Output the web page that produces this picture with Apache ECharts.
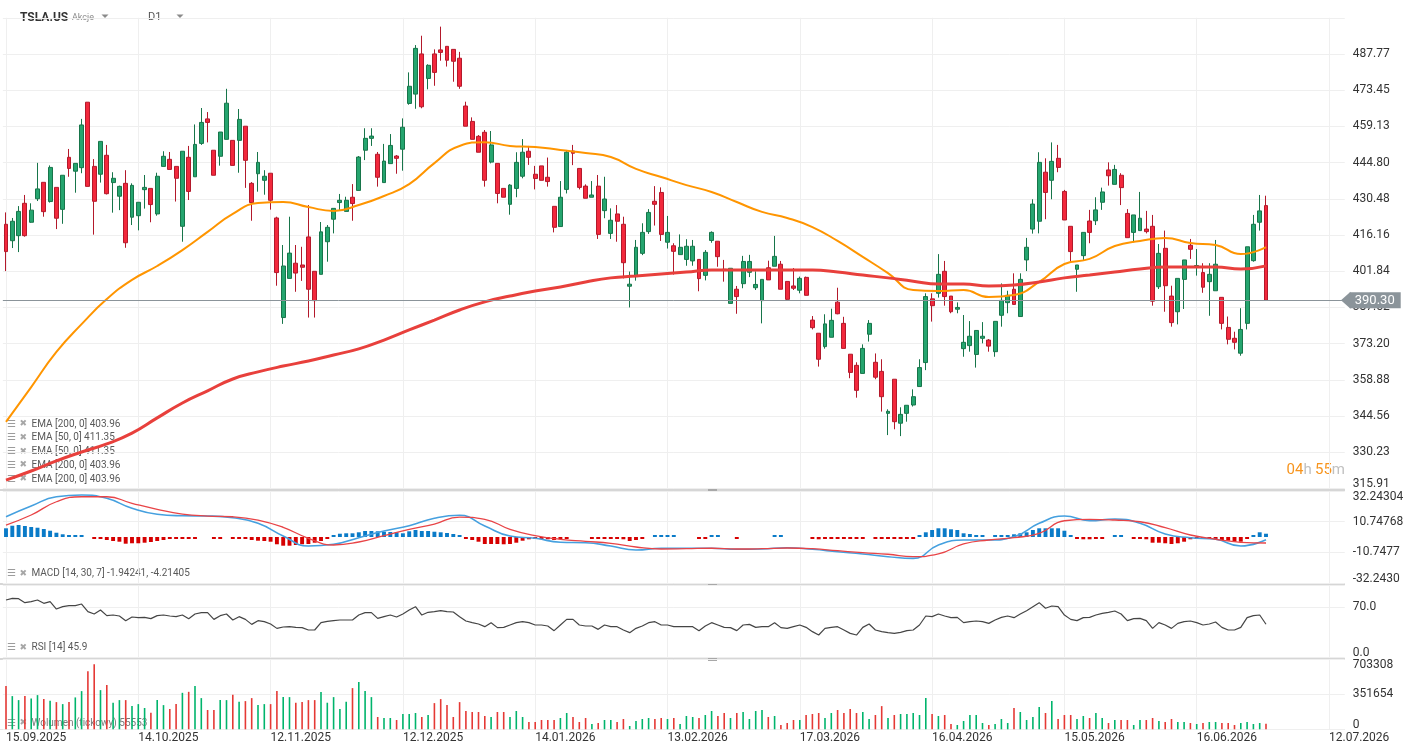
<!DOCTYPE html>
<html>
<head>
<meta charset="utf-8">
<script src="https://cdn.jsdelivr.net/npm/echarts@6.0.0/dist/echarts.min.js"></script>
<style>
  html, body { margin: 0; padding: 0; background: #fff; }
  #main { width: 1413px; height: 755px; }
</style>
</head>
<body>
<div id="main"></div>
<script>
// tick labels
var tickDates = ['15.09.2025', '14.10.2025', '12.11.2025', '12.12.2025', '14.01.2026', '13.02.2026',
  '17.03.2026', '16.04.2026', '15.05.2026', '16.06.2026', '12.07.2026'];
var priceTicks = ['315.91', '330.23', '344.56', '358.88', '373.20', '387.52', '401.84', '416.16',
  '430.48', '444.80', '459.13', '473.45', '487.77'];
var macdTicks = ['-32.2430', '-10.7477', '10.74768', '32.24304'];

// daily candles (one per trading day)
var open = [
  420.4, 413.9, 415.9, 428.7, 421.2, 430.5, 437.0, 429.4, 435.0, 426.3,
  446.9, 441.4, 442.8, 468.7, 443.3, 440.2, 447.7, 436.9, 431.5, 436.6,
  423.2, 423.8, 434.1, 434.6, 424.5, 443.3, 446.1, 443.3, 419.6, 446.9,
  439.2, 452.4, 462.1, 449.7, 447.3, 454.0, 453.6, 453.6, 459.2, 436.6,
  440.4, 437.8, 440.6, 422.9, 383.5, 399.0, 405.0, 404.3, 415.4, 401.8,
  400.6, 413.5, 422.4, 429.0, 425.5, 431.1, 433.8, 449.7, 454.4, 448.1,
  436.9, 444.4, 447.4, 450.1, 468.2, 471.9, 487.8, 478.1, 487.8, 489.4,
  490.8, 489.6, 486.1, 467.2, 461.1, 455.2, 456.8, 445.0, 444.5, 434.6,
  428.3, 434.6, 439.4, 449.3, 440.2, 443.5, 439.0, 427.5, 419.5, 434.2,
  449.4, 442.5, 435.5, 431.1, 435.5, 425.8, 416.8, 424.5, 420.4, 395.9,
  399.7, 408.9, 417.5, 429.5, 433.0, 413.3, 411.9, 408.4, 406.5, 405.9,
  406.5, 400.2, 414.0, 413.7, 402.6, 389.1, 394.7, 396.9, 401.4, 395.3,
  390.2, 403.2, 403.8, 404.6, 397.8, 396.0, 394.3, 399.4, 382.5, 377.3,
  372.0, 375.7, 389.6, 381.2, 369.0, 364.6, 361.4, 376.9, 365.8, 362.2,
  345.6, 359.1, 341.7, 345.6, 348.9, 356.2, 365.7, 390.9, 393.1, 401.8,
  392.0, 386.8, 371.2, 372.4, 368.9, 375.3, 374.6, 370.0, 384.4, 389.4,
  394.7, 383.9, 406.3, 418.5, 421.6, 441.0, 437.8, 446.5, 433.4, 419.6,
  402.6, 408.0, 421.7, 421.8, 429.1, 441.9, 436.2, 439.8, 424.7, 417.2,
  417.9, 418.5, 419.6, 395.7, 410.9, 392.0, 385.8, 398.6, 412.1, 403.6,
  401.3, 397.7, 394.1, 391.5, 379.6, 375.3, 369.4, 381.2, 406.0, 421.2,
  427.8
];
var close = [
  409.6, 421.6, 425.5, 415.9, 426.0, 434.4, 425.4, 442.9, 422.8, 439.8,
  442.5, 444.5, 459.7, 435.4, 429.5, 453.2, 432.5, 438.6, 435.4, 413.1,
  435.8, 429.1, 435.0, 428.2, 439.4, 447.3, 442.1, 438.6, 449.3, 433.4,
  452.0, 460.7, 460.7, 439.8, 456.9, 468.3, 443.7, 461.9, 445.7, 429.0,
  444.9, 439.4, 429.9, 401.3, 403.9, 409.0, 401.1, 403.4, 394.7, 390.2,
  417.4, 419.2, 426.7, 429.9, 429.9, 428.6, 447.0, 454.4, 455.3, 439.0,
  445.4, 451.6, 446.5, 458.8, 475.0, 490.0, 466.9, 483.3, 480.5, 488.4,
  485.3, 484.9, 475.0, 459.2, 454.0, 448.9, 437.8, 451.8, 432.6, 431.1,
  435.9, 444.9, 448.9, 446.9, 438.5, 437.8, 437.3, 419.2, 431.1, 448.9,
  448.5, 435.0, 430.7, 432.0, 416.4, 430.4, 422.0, 421.6, 405.2, 396.7,
  411.3, 417.2, 425.1, 428.3, 416.4, 417.2, 409.7, 411.3, 411.7, 411.7,
  398.9, 409.3, 417.2, 407.6, 402.1, 403.0, 391.8, 405.7, 405.7, 396.6,
  398.6, 398.4, 407.7, 394.7, 390.7, 395.1, 399.0, 392.3, 379.5, 367.0,
  381.0, 382.4, 385.0, 371.3, 361.8, 354.7, 371.3, 381.2, 359.9, 352.2,
  346.4, 342.3, 345.2, 348.8, 352.2, 363.7, 391.8, 388.2, 400.6, 391.8,
  385.8, 387.5, 373.7, 376.1, 378.4, 376.1, 372.2, 382.0, 390.3, 392.3,
  388.7, 398.6, 411.3, 428.4, 444.9, 433.0, 445.3, 442.9, 422.1, 409.6,
  404.3, 417.2, 417.2, 426.1, 433.2, 439.6, 442.1, 434.9, 415.1, 424.1,
  422.8, 417.5, 390.0, 408.9, 396.1, 381.5, 399.0, 406.3, 410.5, 404.1,
  395.5, 400.6, 404.6, 381.2, 374.9, 373.7, 378.8, 411.5, 420.4, 425.7,
  390.3
];
var high = [
  425.1, 422.9, 427.6, 432.0, 428.7, 444.7, 437.0, 443.7, 435.0, 439.8,
  450.2, 444.5, 462.1, 468.7, 446.2, 453.2, 451.8, 441.0, 435.7, 441.8,
  436.6, 429.1, 439.9, 434.6, 440.8, 449.3, 449.0, 443.3, 449.3, 451.4,
  459.9, 466.4, 464.8, 449.7, 456.9, 474.0, 453.6, 466.0, 459.2, 437.1,
  449.0, 441.8, 440.6, 423.4, 412.2, 423.4, 412.2, 411.5, 428.0, 401.8,
  421.3, 420.1, 426.7, 432.4, 431.3, 436.3, 447.4, 458.4, 458.4, 449.0,
  452.2, 456.1, 447.8, 462.3, 480.5, 491.3, 495.0, 483.7, 489.6, 498.6,
  490.8, 489.6, 488.6, 468.9, 462.7, 455.7, 457.7, 457.3, 444.5, 434.6,
  436.3, 448.9, 454.1, 451.4, 443.5, 443.5, 446.8, 427.5, 437.5, 449.8,
  451.8, 442.5, 436.2, 437.5, 439.9, 439.2, 426.7, 428.0, 423.4, 401.7,
  414.2, 420.8, 426.4, 435.5, 435.0, 423.7, 412.9, 416.4, 414.5, 414.2,
  406.5, 410.2, 417.6, 413.7, 406.3, 403.0, 396.0, 407.9, 408.3, 401.8,
  398.6, 406.0, 415.8, 405.9, 397.8, 403.1, 399.7, 399.7, 384.1, 377.3,
  384.8, 387.0, 395.3, 383.8, 369.0, 365.8, 372.9, 382.5, 369.3, 367.0,
  347.2, 359.1, 348.0, 348.8, 355.1, 367.0, 393.1, 393.1, 408.6, 405.9,
  392.0, 389.5, 384.5, 382.1, 378.4, 381.7, 375.0, 382.0, 397.0, 394.1,
  401.0, 401.0, 415.0, 430.3, 448.9, 446.5, 452.8, 451.8, 434.0, 419.6,
  404.3, 417.2, 426.1, 431.1, 434.9, 444.9, 443.9, 440.6, 426.4, 424.1,
  433.2, 425.7, 424.1, 412.6, 417.9, 396.1, 399.0, 406.3, 414.6, 410.6,
  405.0, 405.0, 414.2, 391.5, 383.9, 377.9, 387.2, 411.5, 424.1, 432.0,
  431.7
];
var low = [
  401.9, 411.0, 409.4, 415.5, 421.0, 429.6, 423.4, 429.0, 418.5, 420.6,
  439.2, 432.9, 440.6, 435.4, 416.3, 436.9, 432.2, 425.0, 426.0, 411.1,
  420.1, 418.0, 426.6, 421.2, 423.8, 443.3, 442.1, 429.4, 413.5, 430.0,
  439.2, 451.8, 452.8, 439.8, 443.6, 454.0, 443.7, 440.8, 434.8, 421.8,
  433.3, 432.1, 426.2, 396.1, 381.0, 399.0, 393.7, 398.0, 383.5, 383.5,
  400.6, 405.6, 416.8, 426.0, 425.5, 421.8, 433.8, 445.8, 451.4, 435.3,
  436.9, 444.4, 440.4, 441.6, 467.7, 466.1, 466.3, 473.8, 475.2, 485.1,
  482.8, 476.8, 474.0, 459.2, 454.0, 448.9, 435.3, 444.5, 428.7, 431.1,
  424.2, 431.1, 438.6, 443.9, 434.2, 437.8, 435.3, 417.2, 419.5, 432.6,
  443.8, 434.2, 430.7, 431.1, 414.6, 422.8, 414.6, 413.5, 399.0, 387.5,
  398.1, 408.2, 416.6, 419.9, 413.8, 410.8, 400.5, 408.4, 404.0, 404.0,
  393.9, 398.2, 413.1, 403.6, 397.7, 389.1, 385.0, 395.1, 399.5, 394.4,
  381.2, 398.4, 403.8, 394.7, 390.2, 394.4, 393.1, 392.3, 378.8, 364.1,
  371.2, 375.7, 384.8, 371.3, 359.5, 351.8, 361.4, 374.0, 359.1, 346.3,
  337.0, 339.3, 336.6, 342.3, 348.3, 356.2, 362.7, 381.9, 391.4, 388.2,
  385.2, 385.2, 368.0, 370.0, 363.7, 373.3, 370.0, 368.0, 379.9, 385.2,
  388.7, 383.9, 401.9, 416.7, 416.8, 422.4, 430.3, 441.0, 422.1, 405.6,
  393.7, 406.3, 412.9, 420.1, 426.1, 435.7, 436.2, 428.0, 415.1, 413.3,
  417.9, 416.8, 388.2, 394.8, 385.8, 379.9, 380.8, 386.9, 406.7, 400.1,
  393.3, 384.2, 394.1, 378.8, 372.9, 370.9, 368.4, 378.8, 405.6, 417.9,
  390.3
];

// moving averages, read every 4th candle
var SAMPLE = 4;
var ema50 = [342.2, 356.0, 369.9, 380.9, 390.8, 398.4, 403.9, 410.2, 417.4, 424.5,
  428.8, 429.2, 427.2, 425.7, 428.0, 431.6, 436.3, 444.6, 451.4, 452.9,
  451.4, 451.0, 449.8, 448.6, 447.0, 442.3, 439.1, 435.9, 433.2, 429.2,
  425.3, 422.9, 419.3, 413.8, 407.5, 401.1, 394.4, 394.0, 394.4, 391.6,
  392.4, 397.6, 404.7, 406.7, 411.8, 413.8, 415.0, 413.0, 412.2, 408.6, 411.35];
var ema200 = [319.2, 322.8, 326.8, 330.3, 333.5, 337.8, 343.8, 349.7, 354.5, 359.2,
  362.0, 364.3, 366.3, 368.7, 371.1, 374.6, 378.6, 382.5, 386.5, 389.7,
  392.0, 394.0, 395.6, 397.6, 399.2, 399.9, 400.7, 401.5, 402.3, 402.3,
  402.3, 402.3, 402.3, 401.5, 400.3, 399.2, 397.9, 396.8, 396.8, 396.0,
  396.4, 397.6, 399.2, 400.3, 401.5, 402.7, 403.5, 403.5, 403.5, 402.7, 403.96];

// MACD [14, 30, 7], lines read every 4th candle
var macdLine = [14.2, 21.7, 28.2, 29.4, 27.1, 20.1, 15.9, 14.9, 14.7, 13.5,
  9.6, 0.7, -6.3, -5.1, -0.5, 4.2, 7.9, 13.1, 15.2, 7.7,
  0.7, -0.9, -3.7, -4.0, -6.3, -9.1, -7.9, -7.9, -7.9, -8.6,
  -8.4, -7.5, -8.6, -10.3, -11.9, -13.8, -15.0, -5.6, -2.1, -2.1,
  0.2, 9.6, 14.7, 11.4, 12.6, 9.6, 2.1, -0.5, -1.6, -6.3, -1.94];
var signalLine = [8.4, 15.4, 24.7, 28.2, 28.2, 23.6, 19.4, 16.1, 14.7, 14.2,
  11.9, 6.8, -0.9, -5.6, -3.5, 0.9, 5.4, 9.1, 14.0, 12.4,
  5.4, 0.9, -1.6, -3.0, -4.4, -7.0, -8.4, -8.2, -7.9, -8.4,
  -8.2, -7.7, -8.2, -9.6, -11.0, -12.1, -13.8, -11.9, -4.9, -2.1,
  -0.5, 2.6, 11.4, 12.4, 11.9, 10.7, 6.5, 1.4, -1.6, -3.7, -4.21];
var macdHist = [
  6.1, 7.9, 8.4, 7.7, 7.0, 6.5, 5.6, 4.4, 3.0, 1.9,
  1.4, 1.2, 1.0, null, -1.0, -1.2, -2.1, -2.8, -3.3, -4.7,
  -4.4, -4.4, -4.0, -3.5, -2.8, -2.1, -1.2, -1.0, -1.0, -1.0,
  -1.0, null, null, -0.8, -0.8, null, -0.8, -1.0, -1.0, -2.1,
  -2.6, -2.8, -3.3, -5.1, -6.1, -6.1, -5.6, -5.1, -4.9, -4.0,
  -2.8, -1.2, 0.8, 2.3, 2.6, 2.6, 3.3, 4.2, 4.2, 4.0,
  3.7, 3.5, 3.3, 2.6, 4.0, 4.9, 4.2, 4.2, 3.7, 3.3,
  2.8, 2.1, 0.8, -0.9, -2.1, -3.3, -4.9, -4.9, -4.9, -5.1,
  -4.9, -4.0, -2.6, -1.6, -1.4, -1.6, -1.6, -2.1, -1.6, -0.9,
  null, null, null, -0.8, -0.9, -0.9, -0.9, -1.2, -1.6, -2.8,
  -2.1, -1.4, null, 0.8, 0.8, 1.2, 0.8, null, null, null,
  -0.8, -0.8, 0.8, 0.8, null, null, -0.8, null, null, null,
  null, null, 0.8, 0.8, null, null, null, null, -0.8, -1.6,
  -1.0, -1.0, -1.0, -1.0, -1.2, -1.2, -1.0, null, -0.8, -0.8,
  -1.2, -1.4, -1.4, -1.0, -0.8, 0.8, 3.3, 4.9, 6.1, 6.1,
  5.4, 4.9, 2.6, 2.1, 1.4, 0.8, null, 0.8, 0.9, 1.4,
  1.9, 2.6, 3.3, 4.9, 6.1, 6.1, 6.1, 6.1, 4.4, 1.4,
  -1.2, -1.6, -1.6, -1.4, -0.8, null, 0.8, 1.2, null, -0.8,
  -1.0, -1.6, -4.0, -4.0, -4.4, -4.9, -4.4, -3.3, -1.6, -1.0,
  -0.8, -1.0, -1.6, -2.1, -2.6, -3.3, -3.3, -0.8, 0.8, 3.3,
  2.3
];

// RSI [14]
var rsi = [
  79.8, 82.1, 81.7, 76.1, 77.5, 79.8, 75.2, 77.5, 67.2, 70.5,
  71.9, 71.9, 74.2, 63.5, 60.2, 65.8, 57.9, 58.8, 57.4, 50.9,
  56.0, 55.1, 55.5, 53.7, 57.9, 58.8, 57.4, 56.5, 58.8, 53.7,
  60.2, 62.1, 62.1, 52.7, 57.9, 60.2, 51.8, 56.5, 52.7, 45.7,
  50.9, 49.5, 46.2, 40.1, 42.0, 42.5, 41.5, 41.1, 37.8, 37.8,
  48.1, 49.9, 50.9, 51.8, 51.8, 51.8, 58.8, 62.1, 62.1, 54.1,
  56.5, 58.8, 56.0, 60.2, 65.8, 70.5, 58.8, 62.6, 63.5, 64.9,
  63.5, 63.0, 56.5, 50.4, 48.1, 46.2, 42.5, 48.1, 41.1, 41.5,
  44.8, 48.1, 49.5, 48.1, 44.8, 44.8, 43.4, 36.9, 44.8, 52.7,
  52.7, 44.8, 43.4, 43.4, 38.7, 44.8, 42.5, 42.5, 37.8, 34.1,
  40.1, 43.4, 48.1, 49.5, 44.8, 44.8, 42.5, 42.5, 42.5, 42.5,
  36.9, 43.4, 48.1, 44.8, 41.5, 41.1, 36.9, 44.8, 45.7, 41.5,
  42.5, 42.5, 48.1, 41.1, 40.1, 42.5, 44.8, 41.5, 35.5, 30.8,
  40.1, 41.5, 42.5, 37.8, 33.1, 30.8, 41.5, 46.2, 37.8, 35.5,
  34.1, 33.1, 34.5, 36.9, 37.8, 44.8, 57.4, 56.5, 60.2, 57.4,
  55.1, 55.5, 48.1, 49.5, 50.4, 49.5, 47.1, 51.8, 55.5, 57.4,
  55.1, 60.2, 64.9, 70.5, 76.1, 68.2, 71.4, 70.5, 58.8, 52.7,
  50.9, 55.1, 55.5, 58.8, 61.2, 62.6, 64.4, 60.2, 50.9, 53.7,
  54.1, 50.9, 40.1, 48.1, 44.8, 40.1, 47.1, 49.5, 50.4, 48.1,
  44.8, 46.2, 49.0, 41.5, 37.8, 37.8, 41.5, 55.1, 57.9, 58.8,
  45.9
];

// tick volume, thousands
var volumeK = [
  432, 332, 292, 332, 309, 342, 302, 286, 272, 252,
  272, 319, 382, 581, 651, 392, 442, 266, 292, 292,
  232, 252, 213, 166, 292, 242, 203, 252, 365, 375,
  432, 312, 193, 193, 292, 292, 345, 276, 282, 312,
  242, 252, 252, 382, 322, 322, 266, 272, 292, 292,
  372, 266, 322, 203, 276, 412, 472, 382, 322, 123,
  113, 113, 93, 153, 153, 163, 123, 143, 262, 302,
  242, 123, 272, 183, 173, 173, 133, 123, 173, 173,
  123, 183, 123, 73, 73, 93, 93, 93, 113, 163,
  123, 73, 113, 53, 63, 93, 93, 73, 103, 33,
  83, 103, 113, 103, 113, 103, 113, 53, 133, 123,
  113, 143, 183, 133, 163, 113, 163, 173, 103, 183,
  193, 123, 133, 43, 63, 93, 93, 143, 153, 163,
  113, 163, 193, 163, 203, 163, 173, 103, 143, 232,
  113, 143, 153, 153, 163, 143, 312, 153, 133, 143,
  53, 43, 83, 143, 143, 63, 43, 53, 103, 63,
  213, 173, 93, 123, 222, 163, 282, 103, 143, 143,
  103, 133, 113, 163, 113, 63, 93, 93, 93, 43,
  93, 93, 113, 83, 73, 103, 73, 73, 63, 53,
  63, 73, 73, 63, 63, 43, 63, 73, 53, 63,
  55.553
];

// layout
var SLOTS = 213, STEP = 21;
var PRICE_MIN = 315.91, PRICE_STEP = 14.32166;
var GL = 2.85, GW = 1341.9;
var UP = '#25a56f', DOWN = '#f2283c';

var cats = [];
for (var i = 0; i < SLOTS; i++) cats.push(i % STEP === 0 ? tickDates[i / STEP] : 'd' + i);

var lastClose = close[close.length - 1];

function everyStep(i) { return i % STEP === 0; }

function xAx(g, labels) {
  return {
    type: 'category', gridIndex: g, data: cats, boundaryGap: true,
    axisLine: { show: false }, axisTick: { show: false },
    axisLabel: labels ? {
      show: true, interval: everyStep, align: 'left', margin: 3,
      color: '#333', fontSize: 12, fontFamily: 'Roboto'
    } : { show: false },
    splitLine: { show: true, interval: everyStep, alignWithLabel: true, lineStyle: { color: '#efefef' } }
  };
}

var rich = {
  t: { color: '#333', fontSize: 12, fontFamily: 'Roboto', padding: [11, 0, 0, 0] },
  b: { color: '#333', fontSize: 12, fontFamily: 'Roboto', padding: [0, 0, 8, 0] }
};
function labAxis(g, min, max, interval, fmt) {
  return {
    type: 'value', gridIndex: g, position: 'right', min: min, max: max, interval: interval,
    axisLine: { show: false }, axisTick: { show: false },
    axisLabel: { margin: 8, color: '#333', fontSize: 12, fontFamily: 'Roboto', formatter: fmt, rich: rich },
    splitLine: { show: true, lineStyle: { color: '#efefef' } }
  };
}

function sampled(arr) {
  return arr.map(function (v, k) { return [k * SAMPLE, v]; });
}

// legend rows
var gfx = [];
function legendRow(y, text, col) {
  gfx.push({ type: 'text', x: 7, y: y, style: { text: '☰', fill: '#9c9c9c', font: '10px DejaVu Sans', verticalAlign: 'middle', textVerticalAlign: 'middle' } });
  gfx.push({ type: 'text', x: 19.5, y: y, style: { text: '✖', fill: '#a6a6a6', font: '9px DejaVu Sans', verticalAlign: 'middle', textVerticalAlign: 'middle' } });
  gfx.push({ type: 'text', x: 31.5, y: y, style: { text: text, fill: col || '#595959', font: '10px Roboto', verticalAlign: 'middle', textVerticalAlign: 'middle' } });
}
var legendRows = ['EMA [200, 0] 403.96', 'EMA [50, 0] 411.35', 'EMA [50, 0] 411.35', 'EMA [200, 0] 403.96', 'EMA [200, 0] 403.96'];
var legendY = [424, 437.5, 451.5, 465, 479];
legendRows.forEach(function (t, k) { legendRow(legendY[k], t); });
legendRow(573.5, 'MACD [14, 30, 7] -1.94241, -4.21405');
legendRow(647.5, 'RSI [14] 45.9');
legendRow(723, 'Wolumen (tickowy) 55553', '#7a7a7a');

// header
gfx.push({ type: 'rect', shape: { x: 12, y: 2, width: 190, height: 29 }, style: { fill: '#fff' } });
gfx.push({ type: 'text', x: 20, y: 17.5, style: { text: 'TSLA.US', fill: '#333', font: 'bold 12px Roboto', verticalAlign: 'middle', textVerticalAlign: 'middle' } });
gfx.push({ type: 'text', x: 72, y: 18, style: { text: 'Akcje', fill: '#8a8a8a', font: '9px Roboto', verticalAlign: 'middle', textVerticalAlign: 'middle' } });
gfx.push({ type: 'polygon', shape: { points: [[101.5, 14.5], [108.5, 14.5], [105, 18]] }, style: { fill: '#8a8a8a' } });
gfx.push({ type: 'text', x: 148, y: 17.5, style: { text: 'D1', fill: '#555', font: '11px Roboto', verticalAlign: 'middle', textVerticalAlign: 'middle' } });
gfx.push({ type: 'polygon', shape: { points: [[176.5, 14.5], [183.5, 14.5], [180, 18]] }, style: { fill: '#8a8a8a' } });

// pane separators and handles
[490, 584, 659].forEach(function (y) {
  gfx.push({ type: 'line', shape: { x1: 0, y1: y, x2: 1345, y2: y }, style: { stroke: '#d6d6d6', lineWidth: 2 } });
  gfx.push({ type: 'rect', shape: { x: 708, y: y - 1, width: 9, height: 3 }, style: { fill: '#a8a8a8' } });
});
gfx.push({ type: 'line', shape: { x1: 0, y1: 729.5, x2: 1345, y2: 729.5 }, style: { stroke: '#e6e6e6', lineWidth: 1 } });

// countdown
gfx.push({
  type: 'text', x: 1345, y: 470,
  style: {
    text: '{o|04}{g|h} {o|55}{g|m}', align: 'right', textAlign: 'right', verticalAlign: 'middle', textVerticalAlign: 'middle',
    rich: { o: { fill: '#f7941d', font: '15px Roboto' }, g: { fill: '#c0c0c0', font: '15px Roboto' } }
  }
});

var chart = echarts.init(document.getElementById('main'));

var option = {
  animation: false,
  backgroundColor: '#fff',
  textStyle: { fontFamily: 'Roboto' },
  grid: [
    { left: GL, width: GW, top: 17.8, height: 470.6 },
    { left: GL, width: GW, top: 491, height: 92 },
    { left: GL, width: GW, top: 585.6, height: 71.4 },
    { left: GL, width: GW, top: 659, height: 70.3 }
  ],
  xAxis: [xAx(0, false), xAx(1, false), xAx(2, false), xAx(3, true)],
  yAxis: [
    labAxis(0, 0, 13, 1, function (v) {
      var k = Math.round(v);
      if (k === 0) return '{b|' + priceTicks[0] + '}';
      return k < priceTicks.length ? priceTicks[k] : '';
    }),
    { type: 'value', gridIndex: 0, position: 'right', show: false, min: PRICE_MIN, max: PRICE_MIN + 13 * PRICE_STEP, splitLine: { show: false } },
    labAxis(1, 0, 3, 1, function (v) {
      var k = Math.round(v);
      if (k === 0) return '{b|' + macdTicks[0] + '}';
      if (k === 3) return '{t|' + macdTicks[3] + '}';
      return macdTicks[k];
    }),
    { type: 'value', gridIndex: 1, position: 'right', show: false, min: -32.24304, max: 32.24304, splitLine: { show: false } },
    labAxis(2, 0, 100, 70, function (v) {
      if (v === 0) return '{b|0.0}';
      if (v === 70) return '70.0';
      return '';
    }),
    labAxis(3, 0, 703308, 351654, function (v) {
      if (v === 0) return '{b|0}';
      if (v === 703308) return '{t|703308}';
      return String(v);
    })
  ],
  series: [
    {
      type: 'candlestick', xAxisIndex: 0, yAxisIndex: 1, barWidth: '70%',
      data: open.map(function (o, i) { return [o, close[i], low[i], high[i]]; }),
      itemStyle: { color: UP, color0: DOWN, borderColor: '#17754a', borderColor0: '#b3192b', borderWidth: 1 },
      markLine: {
        silent: true, symbol: ['none', 'none'],
        lineStyle: { color: '#8b949a', width: 1, type: 'solid' },
        label: {
          show: true, position: 'end', distance: 5, formatter: lastClose.toFixed(2),
          color: '#fff', fontSize: 13, fontFamily: 'Roboto', backgroundColor: '#8b949a', padding: [2, 6, 1, 5]
        },
        data: [{ yAxis: lastClose }]
      }
    },
    {
      type: 'line', name: 'EMA 50', xAxisIndex: 0, yAxisIndex: 1, data: sampled(ema50),
      smooth: true, showSymbol: false, lineStyle: { color: '#ff9500', width: 2 }
    },
    {
      type: 'line', name: 'EMA 200', xAxisIndex: 0, yAxisIndex: 1, data: sampled(ema200),
      smooth: true, showSymbol: false, lineStyle: { color: '#e8403c', width: 3 }
    },
    {
      type: 'bar', xAxisIndex: 1, yAxisIndex: 3, barWidth: '62%', barMinHeight: 2,
      data: macdHist.map(function (v) {
        return v === null ? '-' : { value: v, itemStyle: { color: v >= 0 ? '#0a7bc8' : '#d60000' } };
      })
    },
    {
      type: 'line', xAxisIndex: 1, yAxisIndex: 3, data: sampled(macdLine),
      smooth: true, showSymbol: false, lineStyle: { color: '#45a0df', width: 1.6 }
    },
    {
      type: 'line', xAxisIndex: 1, yAxisIndex: 3, data: sampled(signalLine),
      smooth: true, showSymbol: false, lineStyle: { color: '#e84447', width: 1.3 }
    },
    {
      type: 'line', xAxisIndex: 2, yAxisIndex: 4, data: rsi,
      showSymbol: false, lineStyle: { color: '#454545', width: 1.2 }
    },
    {
      type: 'bar', xAxisIndex: 3, yAxisIndex: 5, barWidth: 1.6,
      data: volumeK.map(function (v, i) {
        return { value: v * 1000, itemStyle: { color: close[i] >= open[i] ? '#00b46c' : '#e53935' } };
      })
    }
  ],
  graphic: { elements: gfx }
};

chart.setOption(option);

// arrow of the last-price tag, placed through the price scale
var tagY = chart.convertToPixel({ yAxisIndex: 1 }, lastClose);
chart.setOption({
  graphic: {
    elements: [{
      id: 'priceArrow', type: 'polygon',
      shape: { points: [[1341, tagY], [1350.5, tagY - 8.5], [1350.5, tagY + 8.5]] },
      style: { fill: '#8b949a' }
    }]
  }
});
</script>
</body>
</html>
